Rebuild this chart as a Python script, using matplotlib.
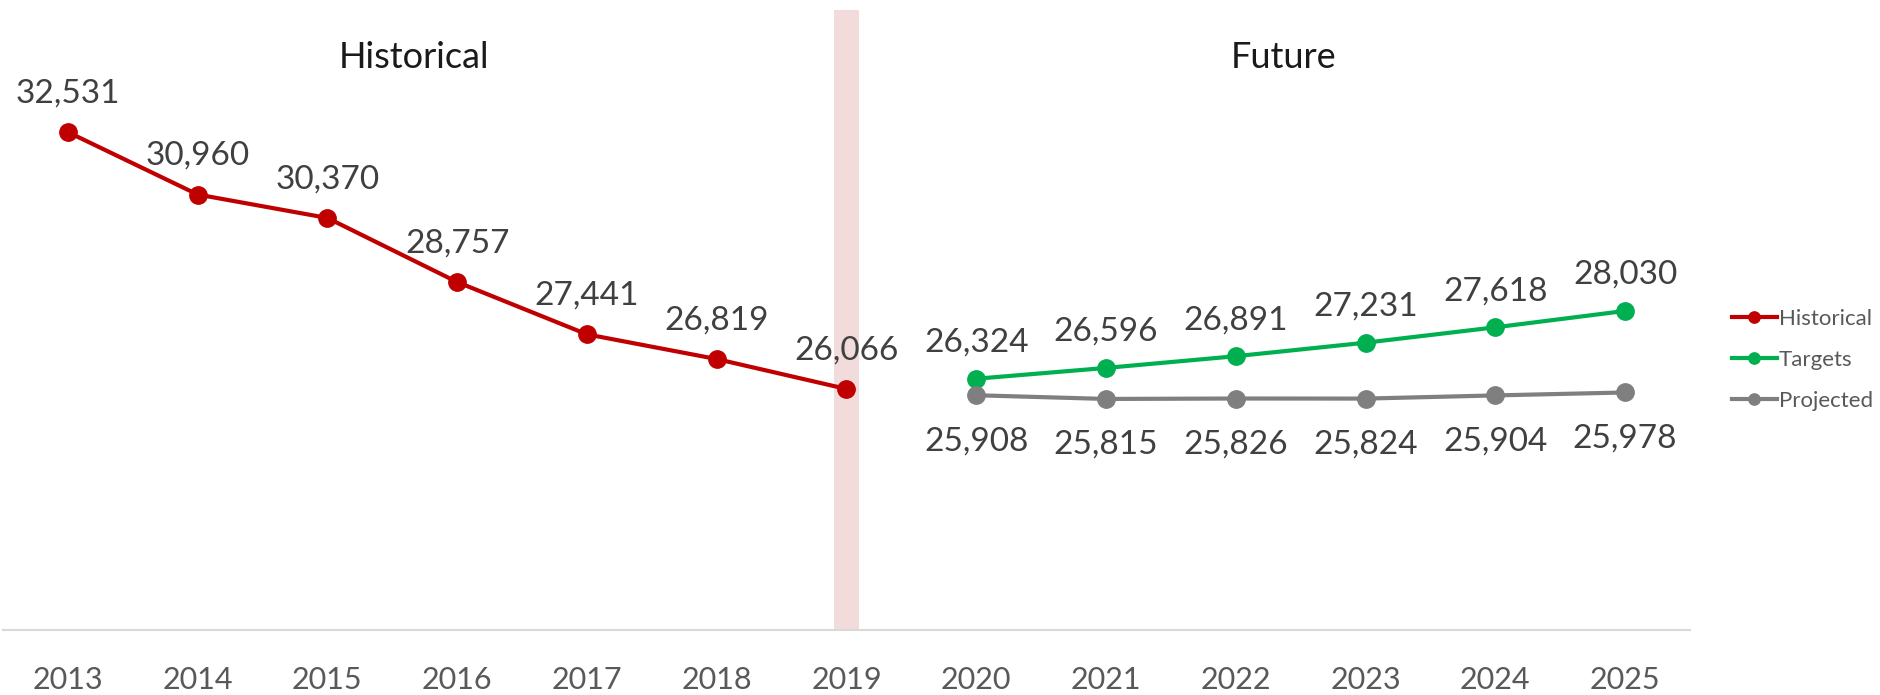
import matplotlib.pyplot as plt
import numpy as np

plt.rcParams['font.family'] = ['Lato', 'DejaVu Sans']

years = ['2013', '2014', '2015', '2016', '2017', '2018', '2019',
         '2020', '2021', '2022', '2023', '2024', '2025']
hist_vals = [32531, 30960, 30370, 28757, 27441, 26819, 26066]
target_vals = [26324, 26596, 26891, 27231, 27618, 28030]
proj_vals = [25908, 25815, 25826, 25824, 25904, 25978]

red = '#C00000'
green = '#00B050'
grey = '#7F7F7F'
txt = '#404040'

fig = plt.figure(figsize=(18.81, 6.95), dpi=100)
ax = fig.add_axes([3 / 1881, 65 / 695, 1687 / 1881, 596 / 695])

x_all = np.arange(len(years))
x_hist = x_all[:7]
x_fut = x_all[7:]

# divider band at 2019 (runs a bit above the plot area)
ax.bar(6, 15600, width=0.19, bottom=20000, color='#F2DCDB', zorder=1,
       clip_on=False)

ax.plot(x_hist, hist_vals, color=red, lw=3, marker='o', ms=12.5,
        label='Historical', zorder=3)
ax.plot(x_fut, target_vals, color=green, lw=3, marker='o', ms=12.5,
        label='Targets', zorder=3)
ax.plot(x_fut, proj_vals, color=grey, lw=3, marker='o', ms=12.5,
        label='Projected', zorder=3)

for xi, v in zip(x_hist, hist_vals):
    ax.annotate(f'{v:,}', (xi, v), xytext=(0, 28), textcoords='offset points',
                ha='center', va='center', fontsize=24, color=txt)
for xi, v in zip(x_fut, target_vals):
    ax.annotate(f'{v:,}', (xi, v), xytext=(0, 26), textcoords='offset points',
                ha='center', va='center', fontsize=24, color=txt)
for xi, v in zip(x_fut, proj_vals):
    ax.annotate(f'{v:,}', (xi, v), xytext=(0, -33), textcoords='offset points',
                ha='center', va='center', fontsize=24, color=txt)

ax.set_xlim(-0.5, 12.5)
ax.set_ylim(20000, 35000)
ax.set_xticks(x_all)
ax.set_xticklabels(years, fontsize=22, color='#595959')
ax.tick_params(axis='x', length=0, pad=26)
ax.set_yticks([])
for s in ['top', 'right', 'left']:
    ax.spines[s].set_visible(False)
ax.spines['bottom'].set_color('#D9D9D9')
ax.spines['bottom'].set_linewidth(1.5)

fig.text(414 / 1881, 1 - 58 / 695, 'Historical', ha='center', va='center',
         fontsize=26, color='#1A1A1A')
fig.text(1284 / 1881, 1 - 58 / 695, 'Future', ha='center', va='center',
         fontsize=26, color='#1A1A1A')

leg = ax.legend(loc='center left', bbox_to_anchor=(1721 / 1881, 1 - 360 / 695),
                bbox_transform=fig.transFigure, frameon=False, fontsize=16,
                handlelength=2.0, handletextpad=0.1, labelspacing=0.95,
                markerscale=0.65, borderpad=0)
for t in leg.get_texts():
    t.set_color('#595959')

fig.savefig('out.png', dpi=100)
